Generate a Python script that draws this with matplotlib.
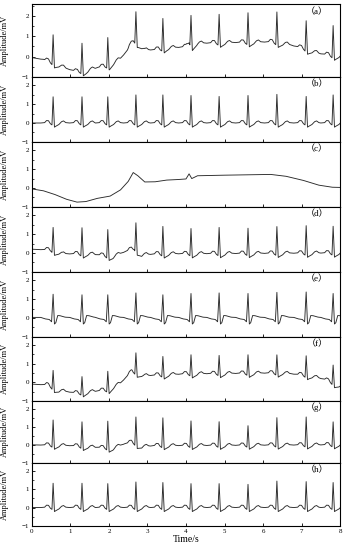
import numpy as np
import matplotlib.pyplot as plt
from matplotlib.ticker import MultipleLocator

plt.rcParams['font.family'] = ['Liberation Serif', 'Noto Sans CJK SC']

# R-peak times (s), shared by every trace
r_times = [0.55, 1.30, 1.97, 2.70, 3.40, 4.13, 4.86, 5.61, 6.36, 7.12, 7.82]

# one beat: time from the R peak (s), amplitude (mV); R entry replaced per beat
beat_dt = [-0.32, -0.22, -0.17, -0.12, -0.07, -0.03, 0.0, 0.035, 0.08, 0.15, 0.22, 0.27, 0.33]
beat_mv = [0.0, 0.02, 0.13, 0.12, -0.04, -0.10, 1.0, -0.22, -0.16, -0.08, 0.07, 0.11, 0.02]

# beat shape of trace (e)
beat_e_dt = [-0.32, -0.20, -0.10, -0.04, 0.0, 0.035, 0.07, 0.12, 0.18, 0.30, 0.33]
beat_e_mv = [0.03, -0.05, -0.08, -0.20, 1.0, -0.32, -0.25, 0.13, 0.12, 0.05, 0.04]

# R amplitudes per trace
r_b = [1.39, 1.39, 1.39, 1.49, 1.49, 1.46, 1.41, 1.46, 1.52, 1.41, 1.49]
r_d = [1.24, 1.39, 1.41, 1.44, 1.46, 1.34, 1.39, 1.34, 1.42, 1.46, 1.42]
r_e = [1.26, 1.23, 1.23, 1.33, 1.23, 1.30, 1.33, 1.30, 1.36, 1.38, 1.30]
r_f = [0.94, 0.88, 1.00, 1.07, 1.00, 1.03, 0.98, 1.00, 0.98, 1.06, 0.97]
r_g = [1.41, 1.37, 1.50, 1.50, 1.55, 1.37, 1.32, 1.09, 1.53, 1.56, 1.28]
r_h = [1.33, 1.33, 1.31, 1.40, 1.37, 1.31, 1.31, 1.27, 1.45, 1.42, 1.37]

# baseline drift, trace (c)
drift_t = [0.0, 0.3, 0.6, 0.9, 1.17, 1.4, 1.7, 2.03, 2.3, 2.5, 2.63, 2.75, 2.93, 3.2, 3.5, 3.8,
           4.0, 4.08, 4.15, 4.3, 5.0, 6.2, 6.6, 7.05, 7.45, 7.8, 8.0]
drift_mv = [-0.05, -0.15, -0.35, -0.60, -0.75, -0.72, -0.55, -0.43, -0.10, 0.35, 0.82, 0.65, 0.32, 0.33, 0.42, 0.45,
            0.48, 0.75, 0.50, 0.65, 0.68, 0.72, 0.62, 0.40, 0.15, 0.04, 0.03]

# residual drift in (d), (f), (g)
drift_d_t = [0.0, 0.5, 0.8, 1.5, 2.1, 2.4, 2.65, 2.85, 3.3, 8.0]
drift_d_mv = [0.2, 0.15, -0.05, -0.05, -0.2, 0.05, 0.25, -0.1, -0.05, 0.0]
drift_f_t = [0.0, 0.4, 0.7, 1.2, 1.6, 2.0, 2.3, 2.6, 2.9, 3.5, 4.0, 6.5, 7.2, 7.6, 8.0]
drift_f_mv = [-0.1, -0.15, -0.45, -0.6, -0.5, -0.4, -0.05, 0.6, 0.35, 0.4, 0.45, 0.5, 0.35, 0.15, -0.2]
drift_g_t = [0.0, 1.0, 2.1, 2.4, 2.6, 2.85, 3.2, 8.0]
drift_g_mv = [0.0, -0.05, -0.2, 0.05, 0.15, -0.1, -0.05, 0.0]

labels = ['a', 'b', 'c', 'd', 'e', 'f', 'g', 'h']


def beats(dt, mv, heights):
    t = [0.0]
    v = [mv[0]]
    for rt, h in zip(r_times, heights):
        for d, m in zip(dt, mv):
            t.append(rt + d)
            v.append(h if d == 0 else m)
    return np.array(t), np.array(v)


def trace(dt, mv, heights, wt=None, wv=None):
    t, v = beats(dt, mv, heights)
    if wt is None:
        return t, v
    tt = np.union1d(t, wt)
    return tt, np.interp(tt, t, v) + np.interp(tt, wt, wv)


traces = [
    trace(beat_dt, beat_mv, r_b, drift_t, drift_mv),
    trace(beat_dt, beat_mv, r_b),
    (np.array(drift_t), np.array(drift_mv)),
    trace(beat_dt, beat_mv, r_d, drift_d_t, drift_d_mv),
    trace(beat_e_dt, beat_e_mv, r_e),
    trace(beat_dt, beat_mv, r_f, drift_f_t, drift_f_mv),
    trace(beat_dt, beat_mv, r_g, drift_g_t, drift_g_mv),
    trace(beat_dt, beat_mv, r_h),
]

fig = plt.figure(figsize=(3.47, 5.5), dpi=100)
gs = fig.add_gridspec(8, 1, height_ratios=[73, 65, 65, 65, 65, 64, 62, 63],
                      left=0.092, right=0.98, top=0.993, bottom=0.044, hspace=0)

for i, (t, v) in enumerate(traces):
    ax = fig.add_subplot(gs[i])
    ax.plot(t, v, color='#2a2a2a', lw=0.65)
    ax.set_xlim(0, 8)
    ax.set_ylim(-1, 2.6 if i == 0 else 2.45)
    ax.set_yticks([-1, 0, 1, 2])
    ax.yaxis.set_minor_locator(MultipleLocator(0.5))
    ax.set_xticks(range(9))
    ax.tick_params(direction='in', labelsize=5, length=2.5, width=0.6, pad=2)
    ax.tick_params(which='minor', direction='in', length=1.5, width=0.5)
    for s in ax.spines.values():
        s.set_linewidth(0.8)
    ax.set_ylabel('Amplitude/mV', fontsize=6)
    ax.yaxis.set_label_coords(-0.075, 0.5)
    ax.text(0.925, 0.89, '（' + labels[i] + '）', transform=ax.transAxes,
            ha='center', va='center', fontsize=6.5)
    if i < 7:
        ax.tick_params(labelbottom=False)
    else:
        ax.set_xlabel('Time/s', fontsize=7, labelpad=1)

fig.savefig('out.png', dpi=100)
